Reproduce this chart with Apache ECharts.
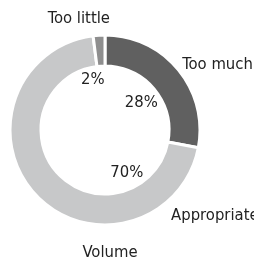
<!DOCTYPE html>
<html>
<head>
<meta charset="utf-8">
<script src="https://cdn.jsdelivr.net/npm/echarts@6/dist/echarts.min.js"></script>
<style>
  html, body { margin: 0; padding: 0; background: #fff; }
  #chartdiv { width: 254px; height: 264px; }
</style>
</head>
<body>
<div id="chartdiv"></div>
<script>
var categories = ['Too much', 'Appropriate', 'Too little'];
var shares = [28, 70, 2];
var colors = ['#606060', '#c7c8c9', '#8e8e8e'];
var chartTitle = 'Volume';

var fontFamily = '"DejaVu Sans Condensed", "DejaVu Sans", sans-serif';

// label nudges (names sit outside the ring, percents inside the hole)
var nameOffsets = [[49, -13], [170, 29], [-21, -29]];
var pctOffsets = [[-3, 5], [59, 8], [-9, 1]];

var ringData = categories.map(function(c, i) {
    return {
        name: c,
        value: shares[i],
        itemStyle: { color: colors[i] },
        label: { offset: nameOffsets[i] }
    };
});

var pctData = categories.map(function(c, i) {
    return {
        name: c,
        value: shares[i],
        label: { offset: pctOffsets[i] }
    };
});

var options = {
    animation: false,
    title: {
        text: chartTitle,
        left: 105,
        top: 239,
        textAlign: 'center',
        textStyle: {
            fontFamily: fontFamily,
            fontSize: 16.5,
            fontWeight: 'normal',
            color: '#222'
        }
    },
    series: [
        {
            name: 'ring',
            type: 'pie',
            center: [105, 130],
            radius: [64, 95],
            startAngle: 90,
            clockwise: true,
            silent: true,
            itemStyle: {
                borderColor: '#fff',
                borderWidth: 3
            },
            label: {
                show: true,
                position: 'inside',
                formatter: '{b}',
                fontFamily: fontFamily,
                fontSize: 16.5,
                color: '#222'
            },
            labelLine: { show: false },
            data: ringData
        },
        {
            name: 'pct',
            type: 'pie',
            center: [105, 130],
            radius: [0, 96],
            startAngle: 90,
            clockwise: true,
            silent: true,
            itemStyle: { color: 'transparent', borderWidth: 0 },
            label: {
                show: true,
                position: 'inside',
                formatter: '{c}%',
                fontFamily: fontFamily,
                fontSize: 16.5,
                color: '#222'
            },
            labelLine: { show: false },
            data: pctData
        }
    ]
};

var chartDom = document.getElementById('chartdiv');
var plot = echarts.init(chartDom);
options && plot.setOption(options);
</script>
</body>
</html>
